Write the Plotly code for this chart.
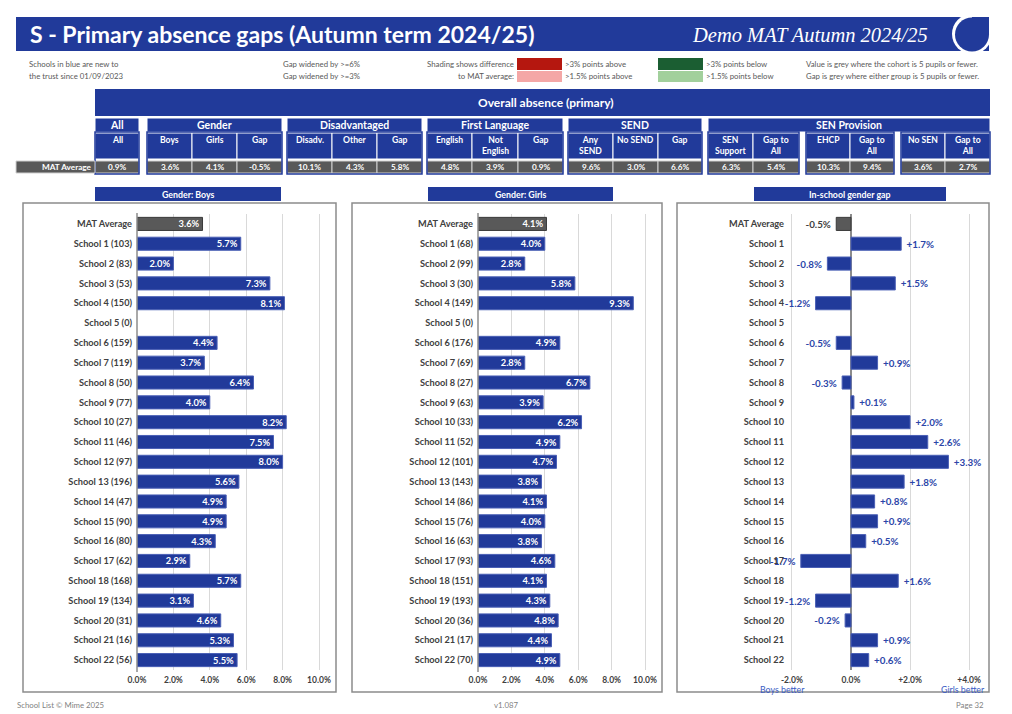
import plotly.graph_objects as go

# reference page size in pixels; the browser adds an 8px body margin,
# so the figure itself is 8px smaller and all page coordinates are shifted
PAGE_W, PAGE_H = 1012, 714
OFF = 8
W, H = PAGE_W - OFF, PAGE_H - OFF
FONT = "Lato"
BLUE = "#213A9A"
GREY = "#595959"
TXT = "#404040"

schools = ["School %d" % i for i in range(1, 23)]
boys_n = [103, 83, 53, 150, 0, 159, 119, 50, 77, 27, 46, 97, 196, 47, 90, 80, 62, 168, 134, 31, 16, 56]
girls_n = [68, 99, 30, 149, 0, 176, 69, 27, 63, 33, 52, 101, 143, 86, 76, 63, 93, 151, 193, 36, 17, 70]
boys_mat = 3.6
girls_mat = 4.1
gap_mat = -0.5
boys = [5.7, 2.0, 7.3, 8.1, None, 4.4, 3.7, 6.4, 4.0, 8.2, 7.5, 8.0, 5.6, 4.9, 4.9, 4.3, 2.9, 5.7, 3.1, 4.6, 5.3, 5.5]
girls = [4.0, 2.8, 5.8, 9.3, None, 4.9, 2.8, 6.7, 3.9, 6.2, 4.9, 4.7, 3.8, 4.1, 4.0, 3.8, 4.6, 4.1, 4.3, 4.8, 4.4, 4.9]
gaps = [1.7, -0.8, 1.5, -1.2, None, -0.5, 0.9, -0.3, 0.1, 2.0, 2.6, 3.3, 1.8, 0.8, 0.9, 0.5, -1.7, 1.6, -1.2, -0.2, 0.9, 0.6]

table_groups = ["All", "Gender", "Disadvantaged", "First Language", "SEND", "SEN Provision"]
table_cols = ["All", "Boys", "Girls", "Gap", "Disadv.", "Other", "Gap", "English", "Not<br>English", "Gap",
              "Any<br>SEND", "No SEND", "Gap", "SEN<br>Support", "Gap to<br>All", "EHCP", "Gap to<br>All",
              "No SEN", "Gap to<br>All"]
table_vals = [0.9, 3.6, 4.1, -0.5, 10.1, 4.3, 5.8, 4.8, 3.9, 0.9, 9.6, 3.0, 6.6, 6.3, 5.4, 10.3, 9.4, 3.6, 2.7]

pct_ticks = [0, 2, 4, 6, 8, 10]
gap_ticks = [-2, 0, 2, 4]
gap_ticktext = ["-2.0%", "0.0%", "+2.0%", "+4.0%"]

shapes = []
annotations = []


def fx(x):
    return (x - OFF) / W


def fy(y):
    return 1 - (y - OFF) / H


def box(x0, y0, x1, y1, fill=None, line=None, lw=0):
    shapes.append(dict(type="rect", xref="paper", yref="paper",
                       x0=fx(x0), x1=fx(x1), y0=fy(y1), y1=fy(y0),
                       fillcolor=fill or "rgba(0,0,0,0)",
                       line=dict(color=line or "rgba(0,0,0,0)", width=lw)))


def vline(x, y0, y1, color, lw):
    shapes.append(dict(type="line", xref="paper", yref="paper", x0=fx(x), x1=fx(x),
                       y0=fy(y1), y1=fy(y0), line=dict(color=color, width=lw)))


def circle(cx, cy, r, fill):
    shapes.append(dict(type="circle", xref="paper", yref="paper",
                       x0=fx(cx - r), x1=fx(cx + r), y0=fy(cy + r), y1=fy(cy - r),
                       fillcolor=fill, line=dict(width=0)))


def text(x, y, s, size=8, color=TXT, bold=False, xanchor="center", yanchor="middle", family=FONT):
    annotations.append(dict(xref="paper", yref="paper", x=fx(x), y=fy(y), text=s, showarrow=False,
                            xanchor=xanchor, yanchor=yanchor, borderpad=0, align="center",
                            font=dict(size=size, color=color, family=family,
                                      weight="bold" if bold else "normal")))


# ---- header ----
box(16, 17, 989, 51, fill=BLUE)
circle(972, 34, 20, "white")
circle(972, 34.5, 17, BLUE)
box(972, 17, 989, 34, fill=BLUE)
text(29, 34, "S - Primary absence gaps (Autumn term 2024/25)", size=23, color="white", bold=True, xanchor="left")
text(929, 35, "<i>Demo MAT Autumn 2024/25</i>", size=20.5, color="white", xanchor="right", family="Liberation Serif")

# ---- key ----
ks = 7.8
kc = "#595959"
text(28, 64, "Schools in blue are new to", ks, kc, xanchor="left")
text(28, 76, "the trust since 01/09/2023", ks, kc, xanchor="left")
text(282, 64, "Gap widened by >=6%", ks, kc, xanchor="left")
text(282, 76, "Gap widened by >=3%", ks, kc, xanchor="left")
text(515, 64, "Shading shows difference", ks, kc, xanchor="right")
text(515, 76, "to MAT average:", ks, kc, xanchor="right")
box(517, 58, 562, 70, fill="#B5170F")
box(517, 71, 562, 82, fill="#F4A7A6")
text(564, 64, ">3% points above", ks, kc, xanchor="left")
text(564, 76, ">1.5% points above", ks, kc, xanchor="left")
box(658, 58, 703, 70, fill="#1B5E32")
box(658, 71, 703, 82, fill="#A2D09C")
text(705, 64, ">3% points below", ks, kc, xanchor="left")
text(705, 76, ">1.5% points below", ks, kc, xanchor="left")
text(805, 64, "Value is grey where the cohort is 5 pupils or fewer.", ks, kc, xanchor="left")
text(805, 76, "Gap is grey where either group is 5 pupils or fewer.", ks, kc, xanchor="left")

# ---- summary table ----
box(95, 89, 990, 116, fill=BLUE)
text(546, 103, "Overall absence (primary)", 12, "white", bold=True)

group_x = [(95, 139), (147, 282), (287, 422), (427, 563), (568, 702), (708, 990)]
block_x = [(95, 139), (147, 282), (287, 422), (427, 563), (568, 702), (708, 799), (806, 894), (901, 990)]
col_x = [(95, 139), (147, 192), (192, 237), (237, 282), (287, 332), (332, 377), (377, 422),
         (427, 472), (472, 518), (518, 563), (568, 613), (613, 658), (658, 702),
         (708, 753), (753, 799), (806, 850), (850, 894), (901, 945), (945, 990)]

for (x0, x1), g in zip(group_x, table_groups):
    box(x0, 118, x1, 132, fill=BLUE, line="white", lw=1)
    text((x0 + x1) / 2, 125, g, 10.5, "white", bold=True)

for (x0, x1), c, v in zip(col_x, table_cols, table_vals):
    box(x0, 133, x1, 159, fill=BLUE, line="white", lw=1)
    text((x0 + x1) / 2, 134, c, 8.6, "white", bold=True, yanchor="top")
    box(x0, 161, x1, 173, fill=GREY, line="#d0d0d0", lw=1)
    text((x0 + x1) / 2, 167, "%.1f%%" % v, 8.2, "white", bold=True)

for x0, x1 in block_x:
    box(x0, 132, x1, 174, line=BLUE, lw=1.5)

box(16, 161, 95, 173, fill=GREY, line="#d0d0d0", lw=1)
text(93, 167, "MAT Average", 8.2, "white", bold=True, xanchor="right")

# ---- panels ----
box(23, 203, 336, 692, line="#8c8c8c", lw=1.5)
box(352, 203, 662, 692, line="#8c8c8c", lw=1.5)
box(677, 203, 989, 692, line="#8c8c8c", lw=1.5)
box(95, 187, 281, 201, fill=BLUE)
text(188, 194, "Gender: Boys", 8.8, "white", bold=True)
box(428, 187, 613, 201, fill=BLUE)
text(520, 194, "Gender: Girls", 8.8, "white", bold=True)
box(754, 187, 946, 201, fill=BLUE)
text(850, 194, "In-school gender gap", 8.8, "white", bold=True)

text(782, 689, "Boys better", 8.8, "#3B5CC4")
text(986, 689, "Girls better", 8.8, "#3B5CC4", xanchor="right")

# ---- footer ----
text(16, 705, "School List © Mime 2025", 7.8, "#7f7f7f", xanchor="left")
text(506, 705, "v1.087", 7.8, "#7f7f7f")
text(985, 705, "Page 32", 7.8, "#7f7f7f", xanchor="right")

# ---- bar charts ----
boys_labels = ["MAT Average"] + ["%s (%d)" % (s, n) for s, n in zip(schools, boys_n)]
girls_labels = ["MAT Average"] + ["%s (%d)" % (s, n) for s, n in zip(schools, girls_n)]
gap_labels = ["MAT Average"] + schools

bar_colors = [GREY] + [BLUE] * len(schools)
line_colors = ["#3a3a3a"] + ["#4a5fb5"] * len(schools)


def pct_text(vals):
    return ["" if v is None else "%.1f%%" % v for v in vals]


def gap_text(v):
    if v is None:
        return ""
    # a little breathing room between bar end and label
    return ("%+.1f%% " % v) if v < 0 else (" %+.1f%%" % v)


fig = go.Figure()
fig.add_trace(go.Bar(y=boys_labels, x=[boys_mat] + boys, orientation="h", width=0.66,
                     marker=dict(color=bar_colors, line=dict(color=line_colors, width=1)),
                     text=pct_text([boys_mat] + boys), textposition="inside", insidetextanchor="end",
                     constraintext="none",
                     textfont=dict(color="white", size=9.3, family=FONT, weight="bold"),
                     xaxis="x", yaxis="y"))
fig.add_trace(go.Bar(y=girls_labels, x=[girls_mat] + girls, orientation="h", width=0.66,
                     marker=dict(color=bar_colors, line=dict(color=line_colors, width=1)),
                     text=pct_text([girls_mat] + girls), textposition="inside", insidetextanchor="end",
                     constraintext="none",
                     textfont=dict(color="white", size=9.3, family=FONT, weight="bold"),
                     xaxis="x2", yaxis="y2"))
gap_all = [gap_mat] + gaps
fig.add_trace(go.Bar(y=gap_labels, x=gap_all, orientation="h", width=0.66,
                     marker=dict(color=bar_colors, line=dict(color=line_colors, width=1)),
                     text=[gap_text(v) for v in gap_all],
                     textposition="outside", cliponaxis=False, constraintext="none",
                     textfont=dict(color=[TXT] + ["#2B45A8"] * len(schools), size=9.8, family=FONT, weight="bold"),
                     xaxis="x3", yaxis="y3"))

# vertical axis lines at zero for the two absence charts
vline(137, 213, 672, "#8c8c8c", 1.5)
vline(478, 213, 672, "#8c8c8c", 1.5)

ydom = [fy(670), fy(214)]
tickfont = dict(size=8.5, color=TXT, family=FONT, weight="bold")
xcommon = dict(showgrid=True, gridcolor="#d9d9d9", gridwidth=1, showline=False,
               ticks="", tickfont=tickfont, automargin=False, fixedrange=True, ticklabelstandoff=3)
ycommon = dict(autorange=False, range=[22.5, -0.5], domain=ydom, showgrid=False, zeroline=False,
               showline=False, ticks="", tickfont=dict(size=9.2, color=TXT, family=FONT, weight="bold"),
               automargin=False, fixedrange=True, ticklabelstandoff=4)

fig.update_layout(
    width=W, height=H, template="none",
    margin=dict(l=0, r=0, t=0, b=0),
    paper_bgcolor="white", plot_bgcolor="rgba(0,0,0,0)",
    showlegend=False,
    font=dict(family=FONT),
    xaxis=dict(domain=[fx(137), fx(137 + 10.25 * 18.2)], range=[0, 10.25], anchor="y", zeroline=False,
               tickvals=pct_ticks, ticktext=["%.1f%%" % t for t in pct_ticks], **xcommon),
    yaxis=dict(anchor="x", **ycommon),
    xaxis2=dict(domain=[fx(478), fx(478 + 10.25 * 16.7)], range=[0, 10.25], anchor="y2", zeroline=False,
                tickvals=pct_ticks, ticktext=["%.1f%%" % t for t in pct_ticks], **xcommon),
    yaxis2=dict(anchor="x2", **ycommon),
    xaxis3=dict(domain=[fx(789), fx(975)], range=[-2.1, 4.2], anchor="y3",
                zeroline=True, zerolinecolor="#8c8c8c", zerolinewidth=1.5,
                tickvals=gap_ticks, ticktext=gap_ticktext, **xcommon),
    yaxis3=dict(anchor="x3", **ycommon),
    shapes=shapes,
    annotations=annotations,
)

fig.write_html("out.html", config={"displayModeBar": False})
